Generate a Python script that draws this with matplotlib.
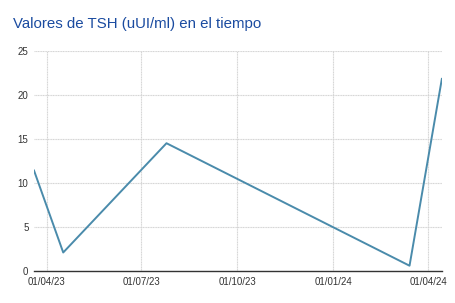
import matplotlib
matplotlib.use("Agg")
import matplotlib.pyplot as plt
import numpy as np

dates = np.array(["2023-03-20", "2023-04-17", "2023-07-25", "2024-03-14", "2024-04-14"], dtype="datetime64[D]")
tsh = [11.4, 2.1, 14.5, 0.6, 21.8]
tick_dates = np.array(["2023-04-01", "2023-07-01", "2023-10-01", "2024-01-01", "2024-04-01"], dtype="datetime64[D]")
tick_labels = ["01/04/23", "01/07/23", "01/10/23", "01/01/24", "01/04/24"]
y_ticks = [0, 5, 10, 15, 20, 25]

plt.rcParams["font.family"] = ["Liberation Sans", "DejaVu Sans"]

fig = plt.figure(figsize=(4.56, 3.03), dpi=100)
ax = fig.add_axes([0.0746, 0.1056, 0.8944, 0.7271])

ax.plot(dates, tsh, color="#4a8bab", linewidth=1.4)

ax.set_xlim(dates[0], dates[-1])
ax.set_ylim(0, 25)
ax.set_xticks(tick_dates)
ax.set_xticklabels(tick_labels)
ax.set_yticks(y_ticks)

ax.grid(True, color="#d4d4d4", linewidth=0.8, linestyle=(0, (1, 0.5)))
ax.set_axisbelow(True)
for side in ["top", "right", "left"]:
    ax.spines[side].set_visible(False)
ax.spines["bottom"].set_color("#333333")
ax.spines["bottom"].set_linewidth(1.0)
ax.tick_params(axis="both", length=0, labelsize=7, colors="#333333", pad=4)

fig.text(0.028, 0.922, "Valores de TSH (uUI/ml) en el tiempo", color="#1a4ba0", fontsize=10.8, ha="left", va="center")

fig.savefig("out.png", dpi=100)
